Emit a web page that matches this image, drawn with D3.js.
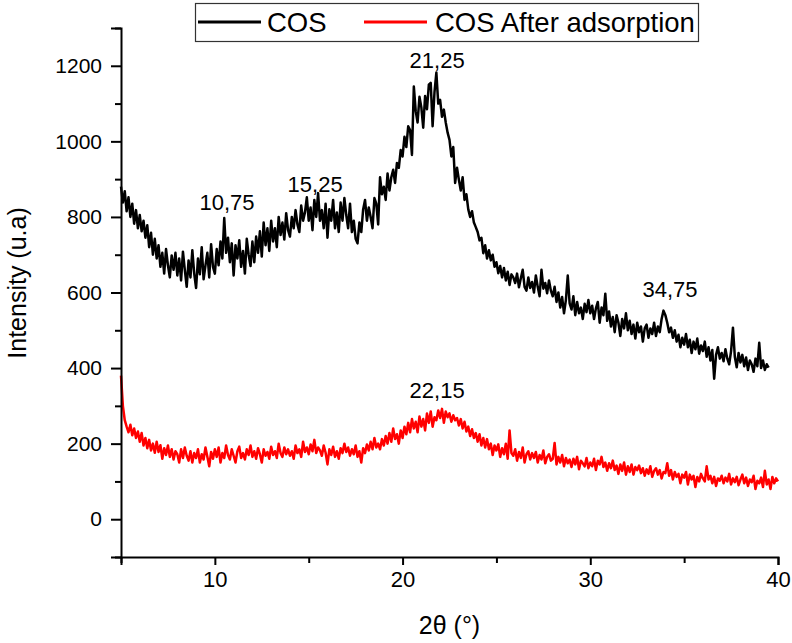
<!DOCTYPE html>
<html>
<head>
<meta charset="utf-8">
<script src="https://cdn.jsdelivr.net/npm/d3@7"></script>
<style>
  html, body { margin: 0; padding: 0; background: #fff; }
  svg { display: block; font-family: "Liberation Sans", Arial, sans-serif; }
</style>
</head>
<body>
<svg id="chart" width="792" height="643"></svg>
<script>
// ---------------- DATA ----------------
const seriesNames = ["COS", "COS After adsorption"];
const seriesColors = ["#000000", "#ff0000"];

// 2θ sampling (0.1° steps), COS from 5.0 to 39.5, after adsorption from 5.0 to 40.0
const thetaStart = 5.0;
const thetaStep = 0.1;

// COS intensity (5.0 .. 39.5)
const cosValues = [
  880, 838, 868, 815, 852, 800, 835, 782, 818, 770,
  805, 762, 790, 745, 778, 720, 758, 700, 742, 690,
  725, 668, 705, 650, 715, 672, 640, 698, 660, 705,
  645, 690, 632, 708, 660, 615, 685, 640, 712, 650,
  612, 690, 648, 720, 635, 672, 705, 640, 728, 668,
  650, 715, 672, 735, 690, 797, 705, 745, 680, 730,
  645, 725, 690, 738, 668, 710, 650, 742, 700, 670,
  735, 680, 748, 705, 762, 695, 785, 725, 770, 710,
  790, 735, 770, 720, 800, 752, 785, 740, 810, 765,
  748, 800, 770, 818, 780, 760, 830, 790, 812, 852,
  790, 825, 765, 845, 800, 863, 790, 818, 770, 835,
  745, 820, 790, 845, 770, 812, 760, 838, 790, 850,
  805, 770, 835, 760, 790, 742, 730, 785, 760, 820,
  845, 790, 825, 800, 770, 850, 835, 780, 905, 860,
  880, 845, 915, 870, 905, 925, 890, 943, 930, 977,
  960, 1012, 985, 1040, 1030, 964, 1145, 1080, 1050, 1118,
  1090, 1036, 1120, 1085, 1150, 1155, 1040, 1130, 1182, 1100,
  1110, 1065, 1084, 1050, 1023, 1004, 960, 985, 890, 930,
  898, 870, 905, 845, 860, 820, 800, 815, 785, 773,
  760, 738, 745, 704, 725, 690, 712, 685, 700, 668,
  680, 651, 670, 640, 665, 632, 655, 620, 648, 640,
  625, 650, 614, 638, 660, 615, 605, 640, 612, 628,
  600, 645, 615, 590, 660, 610, 625, 598, 632, 605,
  590, 615, 575, 600, 560, 588, 545, 580, 645, 571,
  555, 590, 540, 575, 545, 560, 530, 570, 548, 580,
  545, 565, 530, 558, 575, 520, 560, 540, 597, 525,
  550, 510, 535, 495, 540, 520, 485, 530, 505, 545,
  500, 525, 490, 515, 478, 520, 495, 510, 470, 505,
  515, 480, 505, 490, 520, 485, 510, 495, 530, 552,
  540, 520, 495, 507, 480, 500, 470, 488, 455, 480,
  462, 490, 455, 475, 440, 470, 450, 478, 438, 460,
  445, 470, 430, 455, 420, 448, 372, 435, 455, 425,
  440, 418, 450, 425, 410, 445, 507, 430, 402, 440,
  415, 435, 405, 428, 395, 420, 410, 390, 425, 405,
  467, 400, 420, 395, 410, 401
];

// COS After adsorption intensity (5.0 .. 40.0)
const adsValues = [
  380, 300, 262, 245, 230, 250, 222, 240, 215, 232,
  205, 228, 195, 215, 188, 210, 182, 200, 176, 205,
  178, 196, 160, 188, 170, 195, 165, 185, 158, 180,
  172, 150, 185, 162, 190, 168, 155, 180, 150, 175,
  162, 185, 150, 172, 158, 190, 165, 140, 178, 160,
  185, 165, 190, 150, 175, 162, 195, 170, 158, 185,
  168, 150, 180, 192, 162, 175, 158, 185, 170, 195,
  165, 180, 160, 188, 172, 150, 185, 168, 178, 160,
  192, 170, 180, 162, 200, 175, 165, 190, 172, 185,
  168, 180, 160, 195, 175, 185, 165, 205, 178, 190,
  172, 198, 180, 210, 175, 190, 182, 168, 195, 176,
  145, 185, 170, 192, 165, 180, 160, 188, 175, 200,
  178, 190, 168, 185, 172, 195, 165, 180, 150, 188,
  175, 198, 182, 205, 185, 215, 190, 200, 185, 212,
  195, 220, 200, 228, 205, 240, 212, 225, 200, 235,
  215, 245, 225, 255, 230, 265, 240, 258, 230, 272,
  245, 265, 235, 280, 255, 285, 245, 270, 262, 288,
  268, 292, 255, 285, 270, 280, 258, 275, 262, 268,
  248, 265, 240, 258, 232, 245, 220, 238, 215, 228,
  205, 225, 195, 215, 190, 212, 185, 200, 170, 195,
  182, 198, 165, 188, 172, 200, 160, 235, 175, 168,
  185, 155, 178, 162, 190, 150, 172, 180, 158, 175,
  162, 178, 150, 170, 158, 182, 148, 165, 172, 155,
  160, 202, 145, 165, 150, 170, 140, 162, 148, 158,
  138, 160, 145, 165, 132, 155, 148, 140, 162, 135,
  150, 140, 160, 130, 155, 145, 165, 138, 150, 128,
  148, 135, 155, 130, 142, 120, 145, 128, 150, 118,
  140, 125, 145, 118, 138, 130, 142, 122, 135, 115,
  132, 120, 140, 112, 128, 135, 118, 130, 108, 125,
  122, 148, 115, 130, 105, 125, 112, 120, 95, 118,
  110, 125, 92, 118, 105, 115, 85, 112, 100, 120,
  108, 100, 140, 105, 115, 95, 112, 88, 108, 102,
  115, 95, 110, 100, 120, 92, 108, 98, 112, 90,
  105, 118, 95, 110, 88, 105, 98, 115, 80, 102,
  95, 110, 85, 128, 92, 105, 80, 112, 95, 108,
  100
];

// axes
const xDomain = [5, 40];
const yDomain = [-100, 1300];
const xMajorTicks = [10, 20, 30, 40];
const xMinorTicks = [5, 15, 25, 35];
const yMajorTicks = [0, 200, 400, 600, 800, 1000, 1200];
const yMinorTicks = [-100, 100, 300, 500, 700, 900, 1100, 1300];
const xTitle = "2θ (°)";
const yTitle = "Intensity (u.a)";

// peak annotations (label text, 2θ anchor, intensity anchor)
const peakLabels = ["10,75", "15,25", "21,25", "34,75", "22,15"];
const peakLabelX = [10.65, 15.34, 21.84, 34.25, 21.84];
const peakLabelY = [818, 866, 1194, 588, 321];

// ---------------- CHART ----------------
const svg = d3.select("#chart");
const x = d3.scaleLinear().domain(xDomain).range([121, 778]);
const y = d3.scaleLinear().domain(yDomain).range([557, 28]);

const toPoints = vals => vals.map((v, i) => ({ t: thetaStart + i * thetaStep, v }));
const series = [toPoints(cosValues), toPoints(adsValues)];

const line = d3.line().x(d => x(d.t)).y(d => y(d.v));

// draw red first, then black
[1, 0].forEach(k => {
  svg.append("path")
    .datum(series[k])
    .attr("fill", "none")
    .attr("stroke", seriesColors[k])
    .attr("stroke-width", 2.5)
    .attr("stroke-linejoin", "round")
    .attr("d", line);
});

// x axis
const gx = svg.append("g").attr("transform", `translate(0,${y(yDomain[0])})`);
gx.call(d3.axisBottom(x).tickValues(xMajorTicks).tickSize(8).tickPadding(6).tickFormat(d3.format("d")));
gx.append("g").call(d3.axisBottom(x).tickValues(xMinorTicks).tickSize(6).tickFormat(""));
gx.selectAll(".domain").attr("stroke", "#000").attr("stroke-width", 2);
gx.selectAll(".tick line").attr("stroke", "#000").attr("stroke-width", 2);
gx.selectAll(".tick text").attr("font-size", 22).attr("fill", "#000")
  .attr("font-family", "Liberation Sans, Arial, sans-serif");
gx.selectAll("g g .domain").remove();

// y axis
const gy = svg.append("g").attr("transform", `translate(${x(xDomain[0])},0)`);
gy.call(d3.axisLeft(y).tickValues(yMajorTicks).tickSize(10).tickPadding(9).tickFormat(d3.format("d")));
gy.append("g").call(d3.axisLeft(y).tickValues(yMinorTicks).tickSize(6).tickFormat(""));
gy.selectAll(".domain").attr("stroke", "#000").attr("stroke-width", 2);
gy.selectAll(".tick line").attr("stroke", "#000").attr("stroke-width", 2);
gy.selectAll(".tick text").attr("font-size", 21).attr("fill", "#000")
  .attr("font-family", "Liberation Sans, Arial, sans-serif");
gy.selectAll("g g .domain").remove();

// axis titles
svg.append("text")
  .attr("x", (x(xDomain[0]) + x(xDomain[1])) / 2)
  .attr("y", 634)
  .attr("text-anchor", "middle")
  .attr("font-size", 25)
  .text(xTitle);

svg.append("text")
  .attr("transform", `translate(26,${283}) rotate(-90)`)
  .attr("text-anchor", "middle")
  .attr("font-size", 25)
  .text(yTitle);

// peak labels
svg.selectAll(".peak")
  .data(peakLabels)
  .enter().append("text")
  .attr("class", "peak")
  .attr("x", (d, i) => x(peakLabelX[i]))
  .attr("y", (d, i) => y(peakLabelY[i]))
  .attr("text-anchor", "middle")
  .attr("font-size", 22)
  .text(d => d);

// legend
const lg = svg.append("g");
lg.append("rect")
  .attr("x", 195.5).attr("y", 3.5)
  .attr("width", 503).attr("height", 38)
  .attr("fill", "#fff").attr("stroke", "#333").attr("stroke-width", 1.2);
const legendLineX = [198, 364];
const legendTextX = [267, 435];
seriesNames.forEach((name, i) => {
  lg.append("line")
    .attr("x1", legendLineX[i]).attr("x2", legendLineX[i] + 63)
    .attr("y1", 22).attr("y2", 22)
    .attr("stroke", seriesColors[i]).attr("stroke-width", 3);
  lg.append("text")
    .attr("x", legendTextX[i]).attr("y", 32)
    .attr("font-size", 27.5)
    .text(name);
});
</script>
</body>
</html>
